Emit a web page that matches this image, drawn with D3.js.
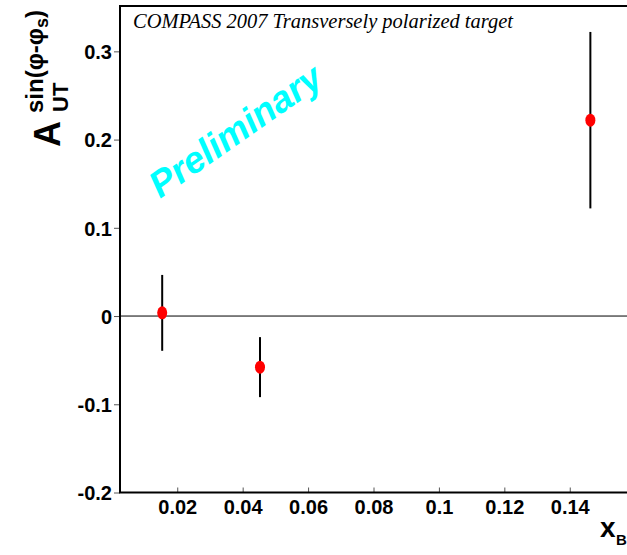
<!DOCTYPE html>
<html><head><meta charset="utf-8">
<script src="https://cdn.jsdelivr.net/npm/d3@7"></script>
<style>
html,body{margin:0;padding:0;background:#fff;overflow:hidden}
svg{display:block}
.tick text{font-family:"Liberation Sans Narrow","Arial Narrow","Liberation Sans",sans-serif;font-weight:bold;font-size:20px;fill:#000}
</style></head>
<body>
<svg id="c" width="627" height="555"></svg>
<script>
const xValues = [0.0154, 0.0453, 0.1463];
const yValues = [0.0036, -0.0579, 0.222];
const yErrors = [0.043, 0.034, 0.100];
const xTicks = [0.02, 0.04, 0.06, 0.08, 0.1, 0.12, 0.14];
const xTickLabels = ["0.02", "0.04", "0.06", "0.08", "0.1", "0.12", "0.14"];
const yTicks = [-0.2, -0.1, 0, 0.1, 0.2, 0.3];
const yTickLabels = ["-0.2", "-0.1", "0", "0.1", "0.2", "0.3"];
const titleText = "COMPASS 2007 Transversely polarized target";
const watermark = "Preliminary";

(function () {
const svg = d3.select("#c");
const mL = 120, mT = 6, mB = 492.5, mR = 627;

const x = d3.scaleLinear().domain([0.0025, 0.1575]).range([mL, mR]);
const y = d3.scaleLinear().domain([-0.2, 0.3514]).range([mB, mT]);

// y axis (ticks outside)
const yAxis = d3.axisLeft(y).tickValues(yTicks)
  .tickFormat((d, i) => yTickLabels[i]).tickSize(6).tickPadding(2);
const gy = svg.append("g").attr("transform", `translate(${mL},0)`).call(yAxis);
gy.select(".domain").remove();
gy.selectAll(".tick line").attr("stroke", "#555").attr("stroke-width", 1);
gy.selectAll(".tick text").attr("dy", "0.36em");

// x axis (ticks inside)
const xAxis = d3.axisBottom(x).tickValues(xTicks)
  .tickFormat((d, i) => xTickLabels[i]).tickSize(-5).tickPadding(21);
const gx = svg.append("g").attr("transform", `translate(0,${mB})`).call(xAxis);
gx.select(".domain").remove();
gx.selectAll(".tick line").attr("stroke", "#555").attr("stroke-width", 1);
gx.selectAll(".tick text").attr("dy", "0");

// frame
svg.append("path")
  .attr("d", `M${mR + 5},${mT} H${mL} V${mB} H${mR + 5}`)
  .attr("fill", "none").attr("stroke", "#000").attr("stroke-width", 2);

// zero line
svg.append("line")
  .attr("x1", mL).attr("x2", mR)
  .attr("y1", y(0)).attr("y2", y(0))
  .attr("stroke", "#000").attr("stroke-width", 1);

// error bars
svg.append("g").selectAll("line").data(xValues).join("line")
  .attr("x1", d => x(d)).attr("x2", d => x(d))
  .attr("y1", (d, i) => y(yValues[i] + yErrors[i]))
  .attr("y2", (d, i) => y(yValues[i] - yErrors[i]))
  .attr("stroke", "#000").attr("stroke-width", 2);

// markers
svg.append("g").selectAll("ellipse").data(xValues).join("ellipse")
  .attr("cx", d => x(d)).attr("cy", (d, i) => y(yValues[i]))
  .attr("rx", 5).attr("ry", 6.5).attr("fill", "#ff0000");

// title
svg.append("text")
  .attr("x", 133).attr("y", 28)
  .attr("font-family", "Liberation Serif, Times New Roman, serif")
  .attr("font-style", "italic").attr("font-size", 22)
  .attr("textLength", 380).attr("lengthAdjust", "spacingAndGlyphs")
  .text(titleText);

// watermark
svg.append("text")
  .attr("transform", "translate(160,199) rotate(-35)")
  .attr("font-family", "Liberation Sans, Arial, sans-serif")
  .attr("font-style", "italic").attr("font-weight", "bold")
  .attr("font-size", 37).attr("fill", "#00ffff")
  .text(watermark);

// y title
const yt = svg.append("g").attr("transform", "translate(60,147) rotate(-90)")
  .attr("font-family", "Liberation Sans, Arial, sans-serif").attr("font-weight", "bold");
yt.append("text").attr("x", 0).attr("y", 0).attr("font-size", 36).text("A");
yt.append("text").attr("x", 35).attr("y", 8).attr("font-size", 22).text("UT");
const sup = yt.append("text").attr("x", 34).attr("y", -17).attr("font-size", 24);
sup.append("tspan").text("sin(φ-φ");
sup.append("tspan").attr("font-size", 18).attr("dy", 5).text("s");
sup.append("tspan").attr("dy", -5).text(")");

// x title
const xfont = "Liberation Sans Narrow, Arial Narrow, Liberation Sans, sans-serif";
svg.append("text").attr("font-family", xfont).attr("font-weight", "bold")
  .attr("x", 600).attr("y", 537).attr("font-size", 28).text("x");
svg.append("text").attr("font-family", xfont).attr("font-weight", "bold")
  .attr("x", 616).attr("y", 545).attr("font-size", 15).text("B");
})();
</script>
</body></html>
